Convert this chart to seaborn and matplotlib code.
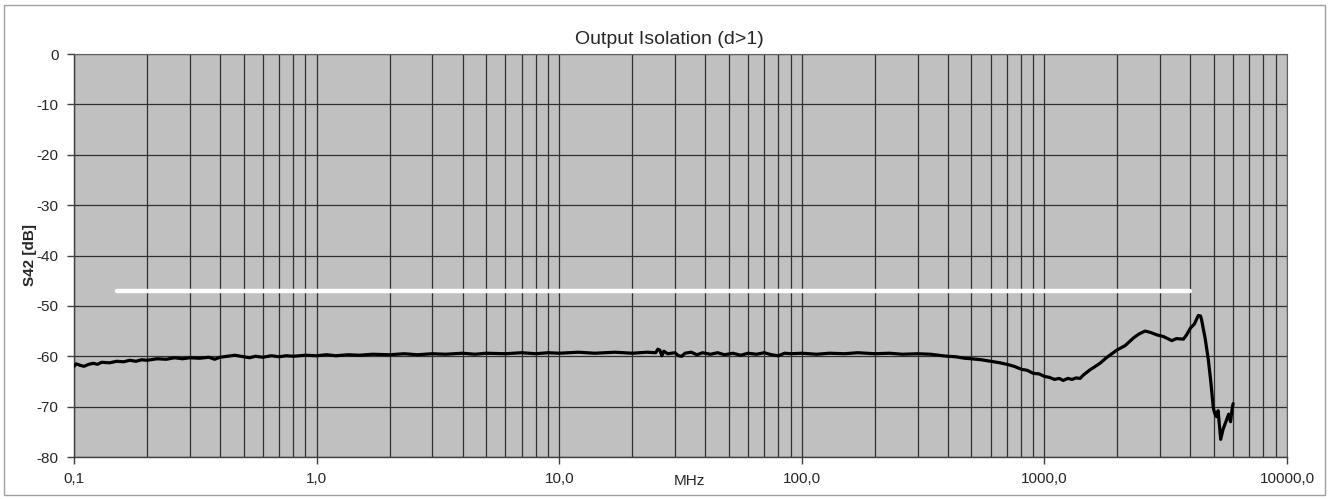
import matplotlib
matplotlib.use("Agg")
import matplotlib.pyplot as plt
import seaborn as sns
import numpy as np
import pandas as pd
from matplotlib.patches import Rectangle
from matplotlib.ticker import FixedLocator, NullFormatter

# ---- data ----
freq_mhz = [0.1, 0.102, 0.106, 0.11, 0.115, 0.12, 0.125, 0.13, 0.14, 0.15, 0.16, 0.17,
            0.18, 0.19, 0.2, 0.22, 0.24, 0.26, 0.28, 0.3, 0.33, 0.36, 0.38, 0.4, 0.43,
            0.46, 0.5, 0.53, 0.56, 0.6, 0.65, 0.7, 0.75, 0.8, 0.9, 1.0, 1.1, 1.2, 1.35,
            1.5, 1.7, 2.0, 2.3, 2.6, 3.0, 3.4, 4.0, 4.5, 5.0, 6.0, 7.0, 8.0, 9.0, 10.0,
            12.0, 14.0, 17.0, 20.0, 23.0, 25.0, 25.5, 26.0, 26.5, 27.0, 28.0, 30.0,
            31.0, 32.0, 33.0, 35.0, 37.0, 39.0, 42.0, 45.0, 48.0, 52.0, 56.0, 60.0,
            65.0, 70.0, 75.0, 80.0, 85.0, 90.0, 100.0, 115.0, 130.0, 150.0, 170.0,
            200.0, 230.0, 260.0, 300.0, 340.0, 380.0, 400.0, 430.0, 470.0, 500.0,
            550.0, 600.0, 656.0, 700.0, 750.0, 806.0, 850.0, 900.0, 950.0, 1000.0,
            1050.0, 1100.0, 1150.0, 1195.0, 1250.0, 1300.0, 1350.0, 1403.0, 1450.0,
            1541.0, 1600.0, 1694.0, 1800.0, 2000.0, 2150.0, 2325.0, 2450.0, 2600.0,
            2750.0, 2905.0, 3100.0, 3350.0, 3500.0, 3742.0, 3850.0, 4000.0, 4150.0,
            4310.0, 4400.0, 4447.0, 4600.0, 4740.0, 4850.0, 4970.0, 5050.0, 5130.0,
            5200.0, 5270.0, 5330.0, 5450.0, 5640.0, 5750.0, 5850.0, 5950.0, 6000.0]
s42_db = [-62.0, -61.5, -61.8, -62.0, -61.6, -61.4, -61.6, -61.2, -61.3, -61.0, -61.1,
          -60.8, -61.0, -60.7, -60.8, -60.5, -60.6, -60.3, -60.5, -60.3, -60.4, -60.2,
          -60.6, -60.2, -60.0, -59.8, -60.1, -60.3, -60.0, -60.2, -59.9, -60.1, -59.9,
          -60.0, -59.8, -59.9, -59.7, -59.9, -59.7, -59.8, -59.6, -59.7, -59.5, -59.7,
          -59.5, -59.6, -59.4, -59.6, -59.4, -59.5, -59.3, -59.5, -59.3, -59.4, -59.2,
          -59.4, -59.2, -59.4, -59.2, -59.3, -58.6, -58.8, -59.9, -59.0, -59.5, -59.3,
          -59.9, -60.0, -59.4, -59.2, -59.7, -59.3, -59.6, -59.3, -59.7, -59.4, -59.8,
          -59.4, -59.6, -59.3, -59.7, -59.9, -59.4, -59.5, -59.4, -59.6, -59.4, -59.5,
          -59.3, -59.5, -59.4, -59.6, -59.5, -59.6, -59.9, -60.0, -60.1, -60.4, -60.5,
          -60.7, -61.0, -61.3, -61.6, -62.0, -62.6, -62.8, -63.4, -63.5, -64.0, -64.2,
          -64.6, -64.4, -64.8, -64.4, -64.6, -64.3, -64.4, -63.7, -62.7, -62.2, -61.4,
          -60.3, -58.7, -57.9, -56.4, -55.6, -55.0, -55.3, -55.75, -56.1, -56.9, -56.5,
          -56.6, -55.8, -54.4, -53.6, -51.9, -52.0, -52.8, -56.5, -60.7, -65.0, -70.3,
          -71.5, -72.0, -70.8, -74.0, -76.5, -74.5, -72.6, -71.5, -73.0, -70.2, -69.4]
limit_freq = [0.15, 4000.0]
limit_db = [-47.0, -47.0]

x_ticks = [0.1, 1.0, 10.0, 100.0, 1000.0, 10000.0]
x_tick_labels = ["0,1", "1,0", "10,0", "100,0", "1000,0", "10000,0"]
y_ticks = [0, -10, -20, -30, -40, -50, -60, -70, -80]
y_tick_labels = ["0", "-10", "-20", "-30", "-40", "-50", "-60", "-70", "-80"]

title = "Output Isolation (d>1)"
x_label = "MHz"
y_label = "S42 [dB]"

# ---- style ----
sns.set_theme(style="white")
plt.rcParams["font.family"] = ["Liberation Sans", "DejaVu Sans"]
plt.rcParams["axes.unicode_minus"] = False

fig = plt.figure(figsize=(13.3, 4.99), dpi=100)
ax = fig.add_axes([74 / 1330, 1 - 457 / 499, (1287 - 74) / 1330, (457 - 54) / 499])
ax.set_facecolor("#c0c0c0")

# frame around figure
fig.patches.append(Rectangle((4 / 1330, 1 - 495 / 499), 1321 / 1330, 490 / 499,
                             transform=fig.transFigure, fill=False,
                             edgecolor="#a0a0a0", linewidth=1.0, zorder=-1))

ax.set_xscale("log")
ax.set_xlim(0.1, 10000)
ax.set_ylim(-80, 0)

df = pd.DataFrame({"freq": freq_mhz, "s42": s42_db})
lim = pd.DataFrame({"freq": limit_freq, "s42": limit_db})

sns.lineplot(data=lim, x="freq", y="s42", ax=ax, color="white", linewidth=3.2, zorder=3)
sns.lineplot(data=df, x="freq", y="s42", ax=ax, color="black", linewidth=2.3, zorder=4)

# ticks
ax.xaxis.set_major_locator(FixedLocator(x_ticks))
ax.set_xticklabels(x_tick_labels)
minor = [m * d for d in [0.1, 1, 10, 100, 1000] for m in range(2, 10)]
ax.xaxis.set_minor_locator(FixedLocator(minor))
ax.xaxis.set_minor_formatter(NullFormatter())
ax.set_yticks(y_ticks)
ax.set_yticklabels(y_tick_labels)

ax.tick_params(axis="both", which="major", direction="out", length=5, width=1,
               color="#404040", labelsize=11, pad=6, bottom=True, left=True)
ax.tick_params(axis="x", which="minor", length=0)

ax.grid(True, which="major", axis="both", color="#303030", linewidth=0.9, zorder=1)
ax.grid(True, which="minor", axis="x", color="#303030", linewidth=0.9, zorder=1)
ax.set_axisbelow(True)

for side in ["left", "bottom"]:
    ax.spines[side].set_color("#404040")
    ax.spines[side].set_linewidth(1.0)
for side in ["top", "right"]:
    ax.spines[side].set_color("#606060")
    ax.spines[side].set_linewidth(0.8)

ax.set_xlabel("")
ax.set_ylabel(y_label, fontsize=11, fontweight="bold", labelpad=0)
fig.text(669 / 1330, 1 - 40 / 499, title, ha="center", va="center", fontsize=14)
fig.text(689 / 1330, 1 - 481 / 499, x_label, ha="center", va="center", fontsize=11)

fig.savefig("out.png", dpi=100)
